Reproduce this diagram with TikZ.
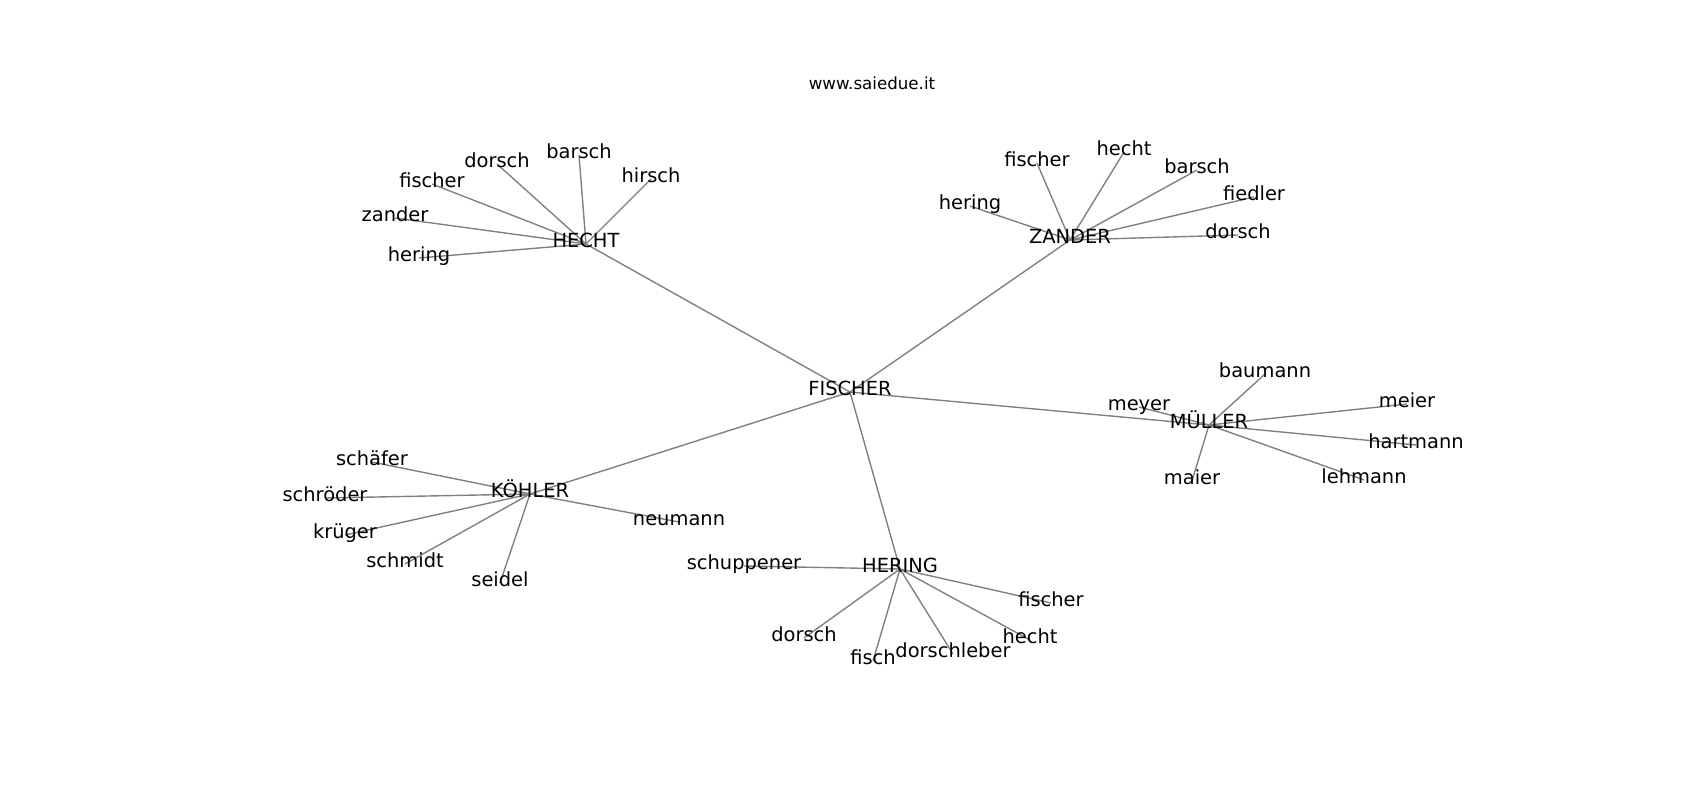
\documentclass[tikz,border=0pt]{standalone}
\usepackage{fontspec}
\setmainfont{DejaVu Sans}
\usetikzlibrary{backgrounds}

\tikzset{
  word/.style={inner sep=0pt,text height=0.76em,text depth=0.24em,font=\fontsize{14}{16}\selectfont},
  link/.style={draw=gray,line width=1pt}
}

\begin{document}
\begin{tikzpicture}[x=0.72pt,y=-0.72pt]
    \useasboundingbox (0,0) rectangle (1700,800) ;
    \node[word,font=\fontsize{12}{14}\selectfont] (title) at (872,86) {www.saiedue.it} ;

    % hubs
    \node[word] (FISCHER) at (850,392) {FISCHER} ;
    \node[word] (HECHT) at (586,244) {HECHT} ;
    \node[word] (ZANDER) at (1070,240) {ZANDER} ;
    \node[word] (MUELLER) at (1209,425) {MÜLLER} ;
    \node[word] (KOEHLER) at (530,494) {KÖHLER} ;
    \node[word] (HERING) at (900,569) {HERING} ;

    % HECHT
    \node[word] (h-dorsch) at (497,164) {dorsch} ;
    \node[word] (h-barsch) at (579,155) {barsch} ;
    \node[word] (h-hirsch) at (651,179) {hirsch} ;
    \node[word] (h-fischer) at (432,184) {fischer} ;
    \node[word] (h-zander) at (395,218) {zander} ;
    \node[word] (h-hering) at (419,258) {hering} ;

    % ZANDER
    \node[word] (z-hering) at (970,206) {hering} ;
    \node[word] (z-fischer) at (1037,163) {fischer} ;
    \node[word] (z-hecht) at (1124,152) {hecht} ;
    \node[word] (z-barsch) at (1197,170) {barsch} ;
    \node[word] (z-fiedler) at (1254,197) {fiedler} ;
    \node[word] (z-dorsch) at (1238,235) {dorsch} ;

    % MUELLER
    \node[word] (m-baumann) at (1265,374) {baumann} ;
    \node[word] (m-meyer) at (1139,407) {meyer} ;
    \node[word] (m-maier) at (1192,481) {maier} ;
    \node[word] (m-lehmann) at (1364,480) {lehmann} ;
    \node[word] (m-meier) at (1407,404) {meier} ;
    \node[word] (m-hartmann) at (1416,445) {hartmann} ;

    % KOEHLER
    \node[word] (k-schaefer) at (372,462) {schäfer} ;
    \node[word] (k-schroeder) at (325,498) {schröder} ;
    \node[word] (k-krueger) at (345,535) {krüger} ;
    \node[word] (k-schmidt) at (405,564) {schmidt} ;
    \node[word] (k-seidel) at (500,583) {seidel} ;
    \node[word] (k-neumann) at (679,522) {neumann} ;

    % HERING
    \node[word] (r-schuppener) at (744,566) {schuppener} ;
    \node[word] (r-dorsch) at (804,638) {dorsch} ;
    \node[word] (r-fisch) at (873,661) {fisch} ;
    \node[word] (r-dorschleber) at (953,654) {dorschleber} ;
    \node[word] (r-hecht) at (1030,640) {hecht} ;
    \node[word] (r-fischer) at (1051,603) {fischer} ;

    \begin{pgfonlayer}{background}
      \foreach \n in {HECHT,ZANDER,MUELLER,KOEHLER,HERING}
        \draw[link] (FISCHER.center) -- (\n.center) ;
      \foreach \n in {dorsch,barsch,hirsch,fischer,zander,hering}
        \draw[link] (HECHT.center) -- (h-\n.center) ;
      \foreach \n in {hering,fischer,hecht,barsch,fiedler,dorsch}
        \draw[link] (ZANDER.center) -- (z-\n.center) ;
      \foreach \n in {baumann,meyer,maier,lehmann,meier,hartmann}
        \draw[link] (MUELLER.center) -- (m-\n.center) ;
      \foreach \n in {schaefer,schroeder,krueger,schmidt,seidel,neumann}
        \draw[link] (KOEHLER.center) -- (k-\n.center) ;
      \foreach \n in {schuppener,dorsch,fisch,dorschleber,hecht,fischer}
        \draw[link] (HERING.center) -- (r-\n.center) ;
    \end{pgfonlayer}
\end{tikzpicture}
\end{document}
